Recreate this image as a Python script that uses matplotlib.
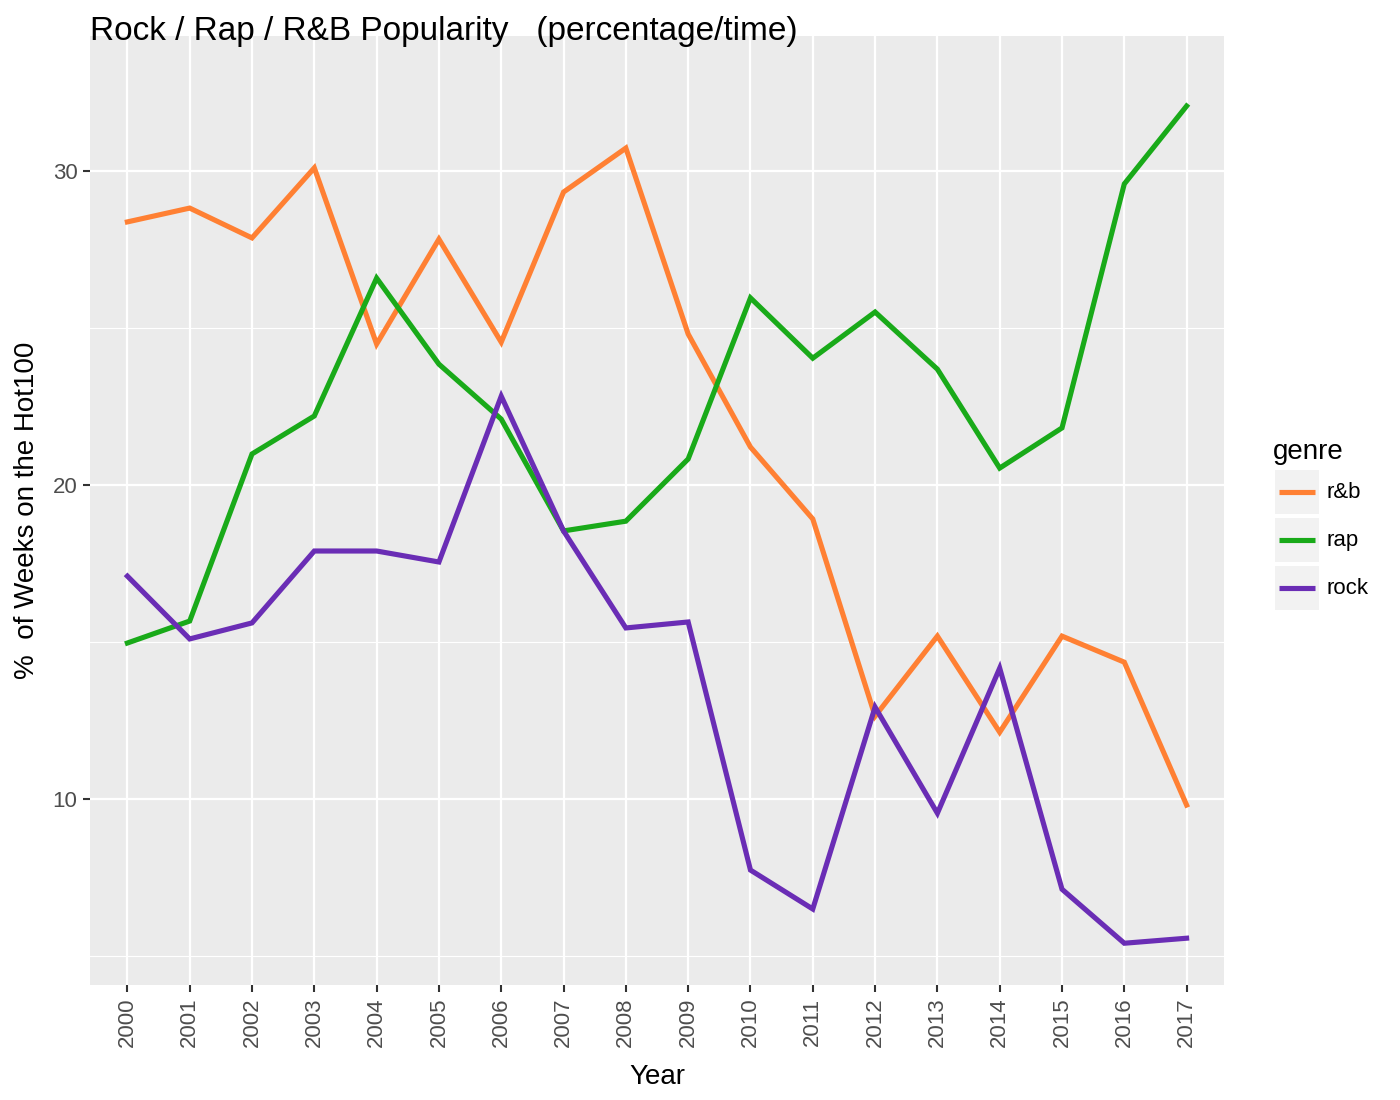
import matplotlib
matplotlib.use("Agg")
import matplotlib.pyplot as plt
from matplotlib.ticker import MultipleLocator

years = list(range(2000, 2018))
genres = ["r&b", "rap", "rock"]
rnb = [28.38, 28.82, 27.87, 30.10, 24.49, 27.83, 24.55, 29.33, 30.73, 24.81,
       21.21, 18.92, 12.64, 15.19, 12.13, 15.19, 14.36, 9.81]
rap = [14.97, 15.67, 20.99, 22.20, 26.59, 23.85, 22.10, 18.54, 18.85, 20.83,
       25.96, 24.04, 25.51, 23.69, 20.54, 21.82, 29.59, 32.07]
rock = [17.10, 15.10, 15.61, 17.90, 17.90, 17.55, 22.83, 18.54, 15.45, 15.64,
        7.74, 6.50, 12.93, 9.55, 14.17, 7.13, 5.41, 5.57]
colors = ["#FF8033", "#19AA19", "#6A2DB5"]

plt.rcParams["font.family"] = ["Liberation Sans", "DejaVu Sans"]

fig = plt.figure(figsize=(14, 11), dpi=100)
ax = fig.add_axes([90 / 1400, 1 - 985 / 1100, (1224 - 90) / 1400, (985 - 36) / 1100])
ax.set_facecolor("#EBEBEB")

for vals, c in zip([rnb, rap, rock], colors):
    ax.plot(years, vals, color=c, lw=3.7, solid_joinstyle="miter", zorder=3)

ax.set_xlim(2000 - 0.6, 2017 + 0.6)
ax.set_ylim(4.08, 34.3)
ax.set_xticks(years)
ax.set_xticklabels([str(y) for y in years], rotation=90)
ax.yaxis.set_major_locator(MultipleLocator(10))
ax.yaxis.set_minor_locator(MultipleLocator(5))
ax.grid(which="major", color="white", lw=1.6)
ax.grid(which="minor", axis="y", color="white", lw=0.8)
ax.set_axisbelow(True)
for s in ax.spines.values():
    s.set_visible(False)
ax.tick_params(which="major", length=5, width=1.5, color="#333333",
               labelcolor="#4D4D4D", labelsize=16, pad=4)
ax.tick_params(which="minor", length=0)

ax.set_xlabel("Year", fontsize=20, labelpad=12)
ax.set_ylabel("%  of Weeks on the Hot100", fontsize=20, labelpad=9)
fig.text(90 / 1400, 1 - 40 / 1100, "Rock / Rap / R&B Popularity   (percentage/time)",
         fontsize=24, va="baseline", ha="left")

# legend
fig.text(1273 / 1400, 1 - 452 / 1100, "genre", fontsize=20, va="center", ha="left")
for i, (g, c) in enumerate(zip(genres, colors)):
    top = 470 + i * 48
    kax = fig.add_axes([1275 / 1400, 1 - (top + 44) / 1100, 44 / 1400, 44 / 1100])
    kax.set_facecolor("#F2F2F2")
    kax.plot([0.1, 0.9], [0.5, 0.5], color=c, lw=3.7, solid_capstyle="butt")
    kax.set_xlim(0, 1)
    kax.set_ylim(0, 1)
    kax.set_xticks([])
    kax.set_yticks([])
    for s in kax.spines.values():
        s.set_visible(False)
    fig.text(1327 / 1400, 1 - (top + 22) / 1100, g, fontsize=16, va="center", ha="left")

fig.savefig("out.png", dpi=100)
